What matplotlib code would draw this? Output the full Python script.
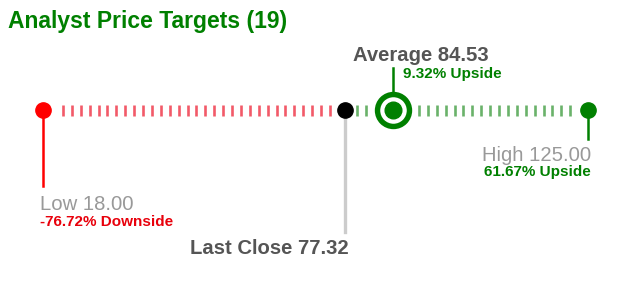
"""
Analyst price targets: low / last close / average / high on one horizontal scale.
"""
import numpy as np
import matplotlib; matplotlib.use("Agg"); import matplotlib.pyplot as plt
from matplotlib.transforms import offset_copy

TITLE="Analyst Price Targets (19)"
LOW=18.00; HIGH=125.00; AVG=84.53; CLOSE=77.32
LOW_PCT="-76.72% Downside"; AVG_PCT="9.32% Upside"; HIGH_PCT="61.67% Upside"

GREEN="#008000"; RED="#ff0000"; DARK="#555555"; LIGHT="#999999"
plt.rcParams["font.family"]=["Liberation Sans","DejaVu Sans"]

W,H=620,282
fig=plt.figure(figsize=(W/100,H/100),dpi=100)
ax=fig.add_axes([0,0,1,1]); ax.axis("off")
# x in price units, y in pixels from the top
ppu=(588-43)/(HIGH-LOW)
ax.set_xlim(LOW-43/ppu,HIGH+(W-588)/ppu); ax.set_ylim(H,0)
LY=110
AVG_NUDGE=11/ppu  # pushed right a little, like the original
avg_x=AVG+AVG_NUDGE

# dashed scale ticks
step=8.9/ppu
tk=np.arange(LOW+20/ppu,HIGH-12/ppu,step)
for t in tk:
    if abs(t-CLOSE)<9/ppu or abs(t-avg_x)<22/ppu: continue
    c="#f25a68" if t<CLOSE else "#6ab26a"
    ax.plot([t,t],[LY-5.5,LY+5.5],color=c,lw=1.9,solid_capstyle="butt",zorder=1)

# stems
ax.plot([LOW,LOW],[LY,186],color=RED,lw=1.8,zorder=2)
ax.plot([CLOSE,CLOSE],[LY,232],color="#cccccc",lw=2.4,zorder=2)
ax.plot([HIGH,HIGH],[LY,139],color=GREEN,lw=1.8,zorder=2)
ax.plot([avg_x,avg_x],[LY,68],color=GREEN,lw=1.8,zorder=2)

# markers
ax.plot(LOW,LY,"o",ms=11,color=RED,zorder=3)
ax.plot(CLOSE,LY,"o",ms=11,color="black",zorder=3)
ax.plot(HIGH,LY,"o",ms=11,color=GREEN,zorder=3)
ax.plot(avg_x,LY,"o",ms=23,mfc="white",mec=GREEN,mew=3.9,zorder=3)
ax.plot(avg_x,LY,"o",ms=12,color=GREEN,zorder=4)

# labels
fig.text(8/W,1-28/H,TITLE,color=GREEN,fontsize=16.5,fontweight="bold")
ax.text(LOW,210,f"Low {LOW:.2f}",color=LIGHT,fontsize=14.6,ha="left",va="baseline",
        transform=offset_copy(ax.transData,fig,x=-3,units="dots"))
ax.text(LOW,226,LOW_PCT,color="#e8000b",fontsize=11,fontweight="bold",ha="left",va="baseline",
        transform=offset_copy(ax.transData,fig,x=-3,units="dots"))
ax.text(CLOSE,254,f"Last Close {CLOSE:.2f}",color=DARK,fontsize=14.6,fontweight="bold",
        ha="right",va="baseline",transform=offset_copy(ax.transData,fig,x=3,units="dots"))
ax.text(avg_x,61,f"Average {AVG:.2f}",color=DARK,fontsize=14.6,fontweight="bold",
        ha="center",va="baseline",transform=offset_copy(ax.transData,fig,x=28,units="dots"))
ax.text(avg_x,78,AVG_PCT,color=GREEN,fontsize=11,fontweight="bold",ha="left",va="baseline",
        transform=offset_copy(ax.transData,fig,x=10,units="dots"))
ax.text(HIGH,161,f"High {HIGH:.2f}",color=LIGHT,fontsize=14.6,ha="right",va="baseline",
        transform=offset_copy(ax.transData,fig,x=3,units="dots"))
ax.text(HIGH,176,HIGH_PCT,color=GREEN,fontsize=11,fontweight="bold",ha="right",va="baseline",
        transform=offset_copy(ax.transData,fig,x=3,units="dots"))

fig.savefig("out.png",dpi=100,facecolor="white")
